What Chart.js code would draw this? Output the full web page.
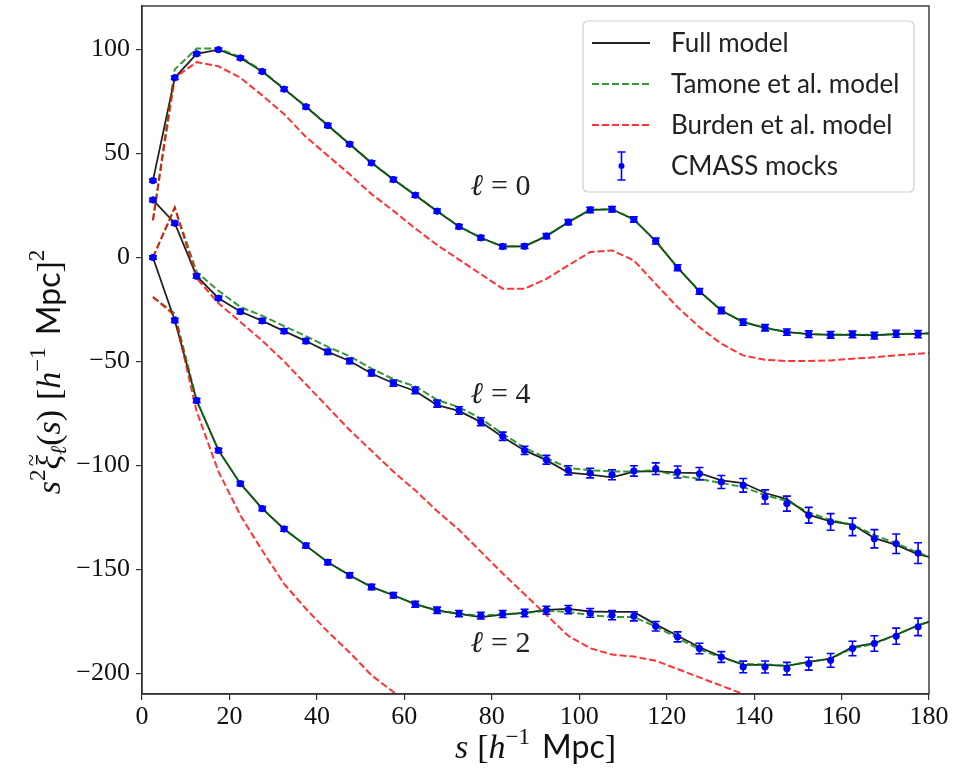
<!DOCTYPE html>
<html>
<head>
<meta charset="utf-8">
<script src="https://cdn.jsdelivr.net/npm/chart.js@4.4.1/dist/chart.umd.min.js"></script>
<style>
  html, body { margin: 0; padding: 0; background: #fff; }
  canvas { display: block; }
</style>
</head>
<body>
<canvas id="xi" width="968" height="775"></canvas>
<script>
// bin centres, h^-1 Mpc
const sBins = [2.5, 7.5, 12.5, 17.5, 22.5, 27.5, 32.5, 37.5, 42.5, 47.5, 52.5, 57.5,
  62.5, 67.5, 72.5, 77.5, 82.5, 87.5, 92.5, 97.5, 102.5, 107.5, 112.5, 117.5,
  122.5, 127.5, 132.5, 137.5, 142.5, 147.5, 152.5, 157.5, 162.5, 167.5, 172.5, 177.5];
// model curves carry one extra bin past the right edge, clipped by the axes
const sModel = sBins.concat([182.5]);

// CMASS mocks, monopole / quadrupole / hexadecapole and their errors
const mock0 = [37, 86.5, 98, 100, 96, 89.5, 81, 72.5, 63.5, 54.5, 45.5, 37.5,
  30, 22.3, 14.9, 9.5, 5.3, 5.4, 10.3, 17, 22.9, 23.2, 18.3, 7.9,
  -4.9, -16.3, -25.5, -31.1, -33.8, -35.9, -36.9, -37.2, -37, -37.6, -36.7, -36.9];
const err0 = [0.8, 0.8, 0.8, 0.8, 0.8, 0.8, 0.9, 0.9, 0.9, 0.9, 1, 1,
  1, 1, 1, 1.1, 1.1, 1.1, 1.2, 1.2, 1.3, 1.3, 1.3, 1.4,
  1.4, 1.4, 1.5, 1.5, 1.5, 1.5, 1.6, 1.6, 1.6, 1.6, 1.7, 1.7];
const mock2 = [0, -30.3, -68.8, -92.8, -108.8, -120.8, -130.6, -138.6, -146.6, -152.9, -158.5, -162.5,
  -166.8, -169.7, -171.3, -172.3, -171.5, -171, -169.7, -169.4, -171, -172.1, -172.6, -177.4,
  -182.5, -188.1, -192.2, -197, -197, -197.8, -195.4, -193.8, -188.1, -185.7, -182.2, -177.7];
const err2 = [0.8, 1, 1, 1, 1, 1, 1.1, 1.1, 1.2, 1.2, 1.3, 1.3,
  1.4, 1.5, 1.5, 1.6, 1.7, 1.8, 1.9, 2, 2.1, 2.2, 2.2, 2.3,
  2.4, 2.5, 2.6, 2.8, 2.9, 3, 3.1, 3.3, 3.5, 3.7, 3.9, 4.2];
const mock4 = [27.7, 16.5, -9, -19.6, -26, -30.5, -35.4, -40.2, -45.4, -49.8, -55.6, -60.4,
  -63.9, -70.3, -73.6, -79, -86, -92.8, -97.3, -102.4, -103.7, -104.5, -102.7, -101.6,
  -103.2, -104, -108, -109.6, -115.2, -118.4, -124, -127.2, -129.6, -135.3, -137.7, -142.2];
const err4 = [0.8, 0.9, 1, 1, 1, 1.1, 1.1, 1.2, 1.2, 1.3, 1.4, 1.5,
  1.6, 1.7, 1.8, 1.9, 2, 2, 2.1, 2.2, 2.3, 2.4, 2.5, 2.8,
  2.9, 3, 3.1, 3.3, 3.4, 3.6, 3.8, 4, 4.2, 4.4, 4.7, 5];

// full model
const full0 = [37, 86.5, 98, 100, 96, 89.5, 81, 72.5, 63.5, 54.5, 45.5, 37.5,
  30, 22.3, 14.9, 9.5, 5.3, 5.4, 10.3, 17, 22.9, 23.2, 18.3, 7.9,
  -4.9, -16.3, -25.5, -31.1, -33.8, -35.9, -36.9, -37.2, -37.2, -37.4, -36.9, -36.7, -36.3];
const full2 = [0, -30.3, -68.8, -92.8, -108.8, -120.8, -130.6, -138.6, -146.6, -152.9, -158.5, -162.5,
  -166.8, -169.9, -171.5, -173, -171.8, -171, -169.5, -169, -170.3, -170.5, -170.5, -176.5,
  -182, -187.5, -192, -196, -196, -196.5, -194.5, -193, -187.5, -185.5, -181.5, -177, -173.5];
const full4 = [27.7, 16.5, -9, -19.6, -26, -30.5, -35.4, -40.2, -45.4, -49.8, -55.8, -60.5,
  -64.2, -71, -73.8, -79.2, -86.4, -92.8, -97.5, -103.5, -104.5, -105.8, -103, -102.8,
  -103.5, -103.7, -107.2, -108.5, -113.3, -116.2, -123.8, -127, -128.5, -135, -138.3, -142.8, -145.2];

// Tamone et al. model
const tam0 = [18, 90.5, 100.5, 100.5, 96.5, 89.8, 81.3, 72.7, 63.7, 54.7, 45.7, 37.7,
  30.1, 22.4, 15, 9.5, 5.3, 5.5, 10.4, 17.1, 23, 23.3, 18.3, 7.9,
  -4.8, -16.2, -25.4, -31, -33.8, -35.8, -36.8, -37.1, -37.1, -37.3, -36.8, -36.6, -36.3];
const tam2 = [-19, -27, -68.8, -92.8, -108.8, -120.8, -130.6, -138.6, -146.6, -152.9, -158.5, -162.5,
  -166.8, -169.7, -171.3, -172.4, -171.6, -171, -170, -170.5, -172, -173, -173, -177.5,
  -183, -188.5, -192.5, -195.5, -195.8, -196.5, -194.5, -193, -188, -185.8, -181.5, -177, -173.5];
const tam4 = [0, 24, -7, -16, -23.8, -28, -33, -37.8, -43, -47.5, -53.5, -58.5,
  -62, -68.5, -72, -77.5, -84.8, -91.5, -96.5, -101.2, -102.4, -102.9, -103, -102.3,
  -105, -106.5, -108.5, -110.4, -114.4, -117.1, -122.6, -126.3, -128.7, -133.5, -137.5, -142, -146];

// Burden et al. model
const bur0 = [17.8, 86.5, 94, 92, 86.5, 78, 69, 58, 49, 40, 30.5, 22.5,
  14, 6, -1, -8, -15, -15, -10.3, -3.8, 2.6, 3.4, -1.4, -12.7,
  -23.9, -33.5, -41.5, -47.1, -49.2, -49.8, -49.8, -49.5, -48.7, -48, -47.1, -46.3, -45.6];
const bur2 = [-19, -28, -74, -103, -124, -141, -157, -169, -180, -190, -201, -209, -219];
const bur4 = [0, 24, -10, -22, -31, -40, -50, -61, -72, -83, -93, -103,
  -112, -122, -131, -141.5, -152, -162, -172, -182, -188, -191, -192, -194,
  -198, -202, -206, -210, -214];

const xTicks = [0, 20, 40, 60, 80, 100, 120, 140, 160, 180];
const yTicks = [-200, -150, -100, -50, 0, 50, 100];

const legendNames = ['Full model', 'Tamone et al. model', 'Burden et al. model', 'CMASS mocks'];
const multipoleLabels = [
  { ell: '0', s: 82, v: 35 },
  { ell: '4', s: 82, v: -65 },
  { ell: '2', s: 82, v: -185 }
];

const SERIF = '"Liberation Serif", "DejaVu Serif", serif';
const SANS = 'Lato, "DejaVu Sans", sans-serif';
const BLUE = '#0000ff';
const GREEN = 'rgba(0, 128, 0, 0.8)';
const RED = 'rgba(255, 0, 0, 0.8)';

function pts(xs, ys) {
  return ys.map((y, i) => ({ x: xs[i], y: y }));
}

function curve(xs, ys, color, dash, order) {
  return {
    data: pts(xs, ys),
    showLine: true,
    borderColor: color,
    borderWidth: dash ? 2 : 1.8,
    borderDash: dash ? [7, 3] : [],
    pointRadius: 0,
    tension: 0,
    fill: false,
    order: order
  };
}

const mocks = [[mock0, err0], [mock2, err2], [mock4, err4]];

// draws a run of text pieces with their own fonts, centred on (x, y).
// a piece with `gap` is just horizontal space, one with `over` sits
// centred above the previous piece without advancing
function drawRich(ctx, parts, x, y) {
  let total = 0;
  parts.forEach(p => {
    if (p.gap) { p.w = p.gap; }
    else if (p.over) { p.w = 0; }
    else { ctx.font = p.font; p.w = ctx.measureText(p.t).width; }
    total += p.w;
  });
  let cx = x - total / 2;
  let prev = null;
  ctx.textBaseline = 'alphabetic';
  parts.forEach(p => {
    if (p.gap) { cx += p.w; return; }
    ctx.font = p.font;
    if (p.over && prev) {
      ctx.textAlign = 'center';
      ctx.fillText(p.t, cx - prev.w / 2 + (p.dx || 0), y + (p.dy || 0));
      return;
    }
    ctx.textAlign = 'left';
    ctx.fillText(p.t, cx, y + (p.dy || 0));
    cx += p.w;
    prev = p;
  });
}

const extras = {
  id: 'extras',
  afterDatasetsDraw(chart) {
    const { ctx, chartArea, scales: { x, y } } = chart;
    // error bars with caps
    ctx.save();
    ctx.beginPath();
    ctx.rect(chartArea.left, chartArea.top, chartArea.right - chartArea.left, chartArea.bottom - chartArea.top);
    ctx.clip();
    ctx.strokeStyle = BLUE;
    ctx.lineWidth = 1.6;
    mocks.forEach(([vals, errs]) => {
      vals.forEach((v, i) => {
        const px = x.getPixelForValue(sBins[i]);
        const top = y.getPixelForValue(v + errs[i]);
        const bot = y.getPixelForValue(v - errs[i]);
        ctx.beginPath();
        ctx.moveTo(px, top); ctx.lineTo(px, bot);
        ctx.moveTo(px - 4, top); ctx.lineTo(px + 4, top);
        ctx.moveTo(px - 4, bot); ctx.lineTo(px + 4, bot);
        ctx.stroke();
      });
    });
    ctx.restore();
  },
  afterDraw(chart) {
    const { ctx, chartArea, scales: { x, y } } = chart;
    ctx.save();

    // frame
    ctx.strokeStyle = '#333';
    ctx.lineWidth = 1.4;
    ctx.strokeRect(chartArea.left, chartArea.top, chartArea.right - chartArea.left, chartArea.bottom - chartArea.top);

    // multipole labels
    ctx.fillStyle = '#222';
    multipoleLabels.forEach(m => {
      drawRich(ctx, [
        { t: 'ℓ', font: 'italic 30px ' + SERIF },
        { gap: 8 },
        { t: '= ' + m.ell, font: '30px ' + SERIF }
      ], x.getPixelForValue(m.s), y.getPixelForValue(m.v) + 10);
    });

    // legend box
    const lx = 583, ly = 21, lw = 331, lh = 171;
    ctx.beginPath();
    ctx.roundRect(lx, ly, lw, lh, 5);
    ctx.fillStyle = 'rgba(255,255,255,0.85)';
    ctx.fill();
    ctx.strokeStyle = '#d0d0d0';
    ctx.lineWidth = 1.2;
    ctx.stroke();

    const rows = [43, 84, 125, 166];
    const styles = [['#222', []], [GREEN, [7, 3]], [RED, [7, 3]]];
    styles.forEach(([c, d], i) => {
      ctx.beginPath();
      ctx.setLineDash(d);
      ctx.strokeStyle = c;
      ctx.lineWidth = d.length ? 2 : 1.8;
      ctx.moveTo(592, rows[i]);
      ctx.lineTo(650, rows[i]);
      ctx.stroke();
    });
    ctx.setLineDash([]);
    // errorbar glyph
    ctx.strokeStyle = BLUE;
    ctx.lineWidth = 1.6;
    ctx.beginPath();
    ctx.moveTo(621.5, rows[3] - 14); ctx.lineTo(621.5, rows[3] + 14);
    ctx.moveTo(617.5, rows[3] - 14); ctx.lineTo(625.5, rows[3] - 14);
    ctx.moveTo(617.5, rows[3] + 14); ctx.lineTo(625.5, rows[3] + 14);
    ctx.stroke();
    ctx.fillStyle = BLUE;
    ctx.beginPath();
    ctx.arc(621.5, rows[3], 3, 0, Math.PI * 2);
    ctx.fill();

    ctx.fillStyle = '#222';
    ctx.font = '26px ' + SANS;
    ctx.textAlign = 'left';
    ctx.textBaseline = 'middle';
    legendNames.forEach((n, i) => ctx.fillText(n, 671, rows[i] + 1));

    // axis titles
    ctx.fillStyle = '#111';
    const it = 'italic 34px ' + SERIF, rm = '34px ' + SERIF, sup = '23px ' + SERIF, sf = '32px ' + SANS;
    drawRich(ctx, [
      { t: 's', font: it },
      { gap: 9 },
      { t: '[', font: rm },
      { t: 'h', font: it },
      { t: '−1', font: sup, dy: -14 },
      { gap: 12 },
      { t: 'Mpc', font: sf },
      { t: ']', font: rm }
    ], (chartArea.left + chartArea.right) / 2, 758);

    ctx.translate(60, 372);
    ctx.rotate(-Math.PI / 2);
    drawRich(ctx, [
      { t: 's', font: it },
      { t: '2', font: sup, dy: -15 },
      { t: 'ξ', font: it },
      { t: '~', font: '22px ' + SERIF, over: true, dy: -22, dx: 2 },
      { t: 'ℓ', font: 'italic 22px ' + SERIF, dy: 6 },
      { t: '(', font: rm },
      { t: 's', font: it },
      { t: ')', font: rm },
      { gap: 10 },
      { t: '[', font: rm },
      { t: 'h', font: it },
      { t: '−1', font: sup, dy: -15 },
      { gap: 12 },
      { t: 'Mpc', font: sf },
      { t: ']', font: rm },
      { t: '2', font: sup, dy: -16 }
    ], 0, 0);
    ctx.restore();
  }
};

const tickFont = { family: SERIF, size: 26 };

new Chart(document.getElementById('xi'), {
  type: 'scatter',
  data: {
    datasets: [
      {
        data: pts(sBins, mock0).concat(pts(sBins, mock2), pts(sBins, mock4)),
        backgroundColor: BLUE,
        borderColor: BLUE,
        pointRadius: 3.2,
        showLine: false,
        order: 0
      },
      curve(sModel, bur0, RED, true, 1),
      curve(sBins, bur2, RED, true, 1),
      curve(sBins, bur4, RED, true, 1),
      curve(sModel, tam0, GREEN, true, 2),
      curve(sModel, tam2, GREEN, true, 2),
      curve(sModel, tam4, GREEN, true, 2),
      curve(sModel, full0, '#222', false, 3),
      curve(sModel, full2, '#222', false, 3),
      curve(sModel, full4, '#222', false, 3)
    ]
  },
  options: {
    responsive: false,
    animation: false,
    layout: { padding: { top: 6, right: 39, left: 0, bottom: 0 } },
    plugins: { legend: { display: false }, tooltip: { enabled: false } },
    scales: {
      x: {
        type: 'linear',
        min: 0,
        max: 180,
        afterBuildTicks: s => { s.ticks = xTicks.map(v => ({ value: v })); },
        afterFit: s => { s.height = 81; s.paddingLeft = 0; s.paddingRight = 0; },
        grid: { drawOnChartArea: false, tickLength: 6, color: '#333', lineWidth: 1.2 },
        border: { color: '#333', width: 1.4 },
        ticks: { font: tickFont, color: '#111', padding: 2, autoSkip: false, maxRotation: 0 }
      },
      y: {
        type: 'linear',
        min: -210,
        max: 121,
        afterBuildTicks: s => { s.ticks = yTicks.map(v => ({ value: v })); },
        afterFit: s => { s.width = 142; s.paddingTop = 0; s.paddingBottom = 0; },
        grid: { drawOnChartArea: false, tickLength: 6, color: '#333', lineWidth: 1.2 },
        border: { color: '#333', width: 1.4 },
        ticks: {
          font: tickFont,
          color: '#111',
          padding: 6,
          autoSkip: false,
          callback: v => String(v).replace('-', '−')
        }
      }
    }
  },
  plugins: [extras]
});
</script>
</body>
</html>
